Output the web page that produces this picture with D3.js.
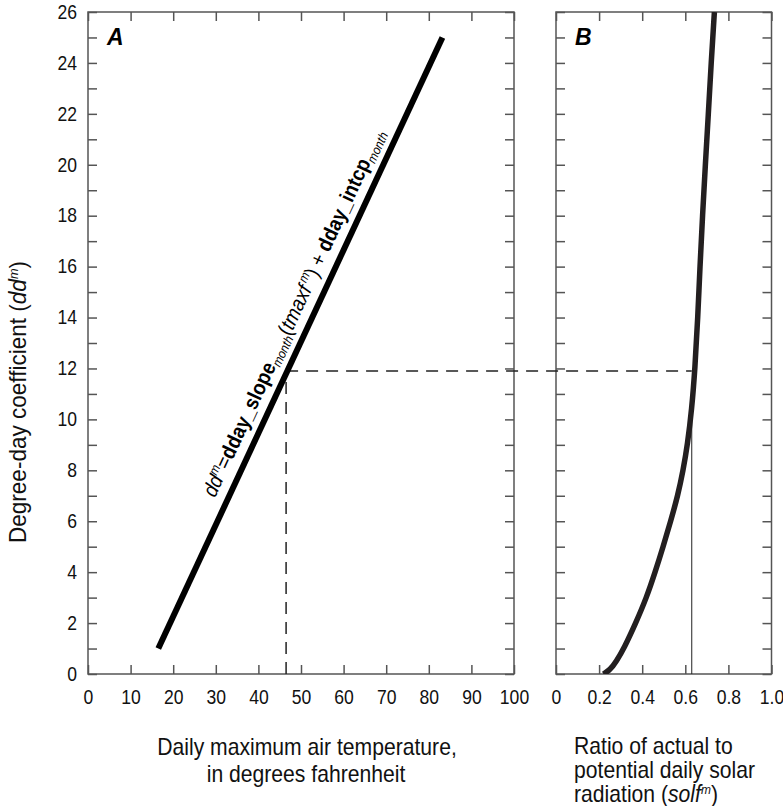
<!DOCTYPE html>
<meta charset="utf-8">
<style>
body { margin: 0; background: #fff; }
svg { font-family: "Liberation Sans", Arial, sans-serif; }
.axis path.domain { display: none; }
.axis line { stroke: #555; stroke-width: 1.5; }
.axis text { font-size: 19.5px; fill: #111; font-family: "Liberation Sans", Arial, sans-serif; }
.frame { fill: none; stroke: #555; stroke-width: 1.5; }
.title { font-size: 23px; fill: #111; }
</style>
<svg width="783" height="806"></svg>
<script src="https://d3js.org/d3.v7.min.js"></script>
<script>

// values
var tempTicks = [0, 10, 20, 30, 40, 50, 60, 70, 80, 90, 100],
    solfTicks = [0, 0.2, 0.4, 0.6, 0.8, 1.0],
    ddTicks = d3.range(0, 27, 1);

// degree-day line (panel A)
var lineTemp = [16.5, 83.2],
    lineDd = [1, 25];

// solf curve (panel B)
var curveDd   = [0,    0.15,  0.5,  1,     2,     3,    4,     5,     6,     7,    8,     9,    10.4, 12,    14,    16,    18,   20,    22,    24,   26],
    curveSolf = [0.22, 0.25,  0.28, 0.315, 0.37,  0.42, 0.46,  0.497, 0.532, 0.565, 0.59, 0.61, 0.63, 0.645, 0.658, 0.668, 0.68, 0.693, 0.707, 0.72, 0.735];

// example read-out
var guideTemp = 46.5, guideDd = 11.9, guideSolf = 0.63;

var narrow = 0.9; // squeeze Liberation Sans toward a condensed face

var svg = d3.select("svg");

var xA = d3.scaleLinear().domain([0, 100]).range([88, 514]),
    xB = d3.scaleLinear().domain([0, 1]).range([556, 771.5]),
    y = d3.scaleLinear().domain([0, 26]).range([674, 12]);

var yTop = y(26), yBot = y(0);

svg.append("clipPath").attr("id", "clipB")
  .append("rect").attr("x", xB(0)).attr("y", yTop).attr("width", xB(1) - xB(0)).attr("height", yBot - yTop);

function squeeze(g) {
  g.selectAll(".tick text").attr("transform", "scale(" + narrow + ",1)");
}

// ticks
svg.append("g").attr("class", "axis")
    .attr("transform", "translate(" + xA(0) + ",0)")
    .call(d3.axisLeft(y).tickValues(ddTicks).tickSize(-9).tickPadding(12.2)
      .tickFormat(function(d) { return d % 2 === 0 ? d : ""; }))
    .call(squeeze);
svg.append("g").attr("class", "axis")
    .attr("transform", "translate(" + xA(100) + ",0)")
    .call(d3.axisRight(y).tickValues(ddTicks).tickSize(-9).tickFormat(""));
svg.append("g").attr("class", "axis")
    .attr("transform", "translate(" + xB(0) + ",0)")
    .call(d3.axisLeft(y).tickValues(ddTicks).tickSize(-9).tickFormat(""));
svg.append("g").attr("class", "axis")
    .attr("transform", "translate(" + xB(1) + ",0)")
    .call(d3.axisRight(y).tickValues(ddTicks).tickSize(-9).tickFormat(""));

svg.append("g").attr("class", "axis")
    .attr("transform", "translate(0," + yBot + ")")
    .call(d3.axisBottom(xA).tickValues(tempTicks).tickSize(-9).tickPadding(16.5))
    .call(squeeze);
svg.append("g").attr("class", "axis")
    .attr("transform", "translate(0," + yTop + ")")
    .call(d3.axisTop(xA).tickValues(tempTicks).tickSize(-9).tickFormat(""));
svg.append("g").attr("class", "axis")
    .attr("transform", "translate(0," + yBot + ")")
    .call(d3.axisBottom(xB).tickValues(solfTicks).tickSize(-9).tickPadding(16.5)
      .tickFormat(function(d) { return d === 0 ? "0" : d3.format(".1f")(d); }))
    .call(squeeze);
svg.append("g").attr("class", "axis")
    .attr("transform", "translate(0," + yTop + ")")
    .call(d3.axisTop(xB).tickValues(solfTicks).tickSize(-9).tickFormat(""));

// frames
svg.append("rect").attr("class", "frame")
    .attr("x", xA(0)).attr("y", yTop).attr("width", xA(100) - xA(0)).attr("height", yBot - yTop);
svg.append("rect").attr("class", "frame")
    .attr("x", xB(0)).attr("y", yTop).attr("width", xB(1) - xB(0)).attr("height", yBot - yTop);

// dashed guides
var dash = "12,8";
svg.append("line")
    .attr("x1", xA(guideTemp)).attr("x2", xA(guideTemp))
    .attr("y1", y(0)).attr("y2", y(guideDd))
    .attr("stroke", "#222").attr("stroke-width", 1.5).attr("stroke-dasharray", dash);
svg.append("line")
    .attr("x1", xA(guideTemp)).attr("x2", xB(guideSolf))
    .attr("y1", y(guideDd)).attr("y2", y(guideDd))
    .attr("stroke", "#222").attr("stroke-width", 1.5).attr("stroke-dasharray", dash);

// where the solf guide meets the curve
var i = d3.bisectLeft(curveSolf, guideSolf),
    f = (guideSolf - curveSolf[i - 1]) / (curveSolf[i] - curveSolf[i - 1] || 1),
    meetDd = curveDd[i - 1] + f * (curveDd[i] - curveDd[i - 1]);

svg.append("line")
    .attr("x1", xB(guideSolf)).attr("x2", xB(guideSolf))
    .attr("y1", y(0)).attr("y2", y(meetDd))
    .attr("stroke", "#222").attr("stroke-width", 1);

// panel A line
svg.append("line")
    .attr("x1", xA(lineTemp[0])).attr("y1", y(lineDd[0]))
    .attr("x2", xA(lineTemp[1])).attr("y2", y(lineDd[1]))
    .attr("stroke", "#000").attr("stroke-width", 6);

// panel B curve
var curveLine = d3.line()
    .x(function(d, j) { return xB(curveSolf[j]); })
    .y(function(d, j) { return y(curveDd[j]); })
    .curve(d3.curveBasis);

svg.append("path")
    .attr("d", curveLine(curveSolf))
    .attr("clip-path", "url(#clipB)")
    .attr("fill", "none").attr("stroke", "#231f20").attr("stroke-width", 5.5);

// equation along the line
var ang = Math.atan2(y(lineDd[0]) - y(lineDd[1]), xA(lineTemp[1]) - xA(lineTemp[0])) * 180 / Math.PI,
    startDd = 6.7,
    startTemp = lineTemp[0] + (startDd - lineDd[0]) * (lineTemp[1] - lineTemp[0]) / (lineDd[1] - lineDd[0]);

var eq = svg.append("text")
    .attr("transform", "translate(" + xA(startTemp) + "," + y(startDd) + ") rotate(" + (-ang) + ") scale(" + narrow + ",1)")
    .attr("x", 0).attr("y", -12)
    .attr("font-size", 21).attr("fill", "#000");

var parts = [
  ["dd", "italic", "normal", 21, 0],
  ["m", "italic", "normal", 13, -8],
  ["=", "normal", "normal", 21, 8],
  ["dday_slope", "normal", "bold", 21, 0],
  ["month", "italic", "normal", 13, 4],
  ["(", "normal", "normal", 21, -4],
  ["tmaxf", "italic", "normal", 21, 0],
  ["\u2009m", "italic", "normal", 13, -8],
  [") + ", "normal", "normal", 21, 8],
  ["dday_intcp", "normal", "bold", 21, 0],
  ["month", "italic", "normal", 13, 4]
];
parts.forEach(function(p) {
  eq.append("tspan")
      .attr("font-style", p[1]).attr("font-weight", p[2])
      .attr("font-size", p[3]).attr("dy", p[4])
      .text(p[0]);
});

// panel letters
svg.append("text").attr("x", 107).attr("y", 45)
    .attr("font-size", 23).attr("font-weight", "bold").attr("font-style", "italic").text("A");
svg.append("text").attr("x", 575).attr("y", 45)
    .attr("font-size", 23).attr("font-weight", "bold").attr("font-style", "italic").text("B");

// axis titles
var yt = svg.append("text").attr("class", "title")
    .attr("transform", "translate(26,402) rotate(-90) scale(0.98,1)")
    .attr("text-anchor", "middle");
yt.append("tspan").text("Degree-day coefficient (");
yt.append("tspan").attr("font-style", "italic").text("dd");
yt.append("tspan").attr("font-style", "italic").attr("font-size", 13).attr("dy", -8).text("m");
yt.append("tspan").attr("dy", 8).text(")");

svg.append("text").attr("class", "title")
    .attr("transform", "translate(307,755) scale(0.92,1)")
    .attr("text-anchor", "middle")
    .text("Daily maximum air temperature,");
svg.append("text").attr("class", "title")
    .attr("transform", "translate(306,782) scale(0.92,1)")
    .attr("text-anchor", "middle")
    .text("in degrees fahrenheit");

var bt = svg.append("text").attr("class", "title")
    .attr("transform", "translate(574,754) scale(0.92,1)");
bt.append("tspan").attr("x", 0).attr("dy", 0).text("Ratio of actual to");
bt.append("tspan").attr("x", 0).attr("dy", 24).text("potential daily solar");
bt.append("tspan").attr("x", 0).attr("dy", 24).text("radiation (");
bt.append("tspan").attr("font-style", "italic").text("solf");
bt.append("tspan").attr("font-style", "italic").attr("font-size", 13).attr("dy", -8).text("m");
bt.append("tspan").attr("dy", 8).text(")");

</script>
